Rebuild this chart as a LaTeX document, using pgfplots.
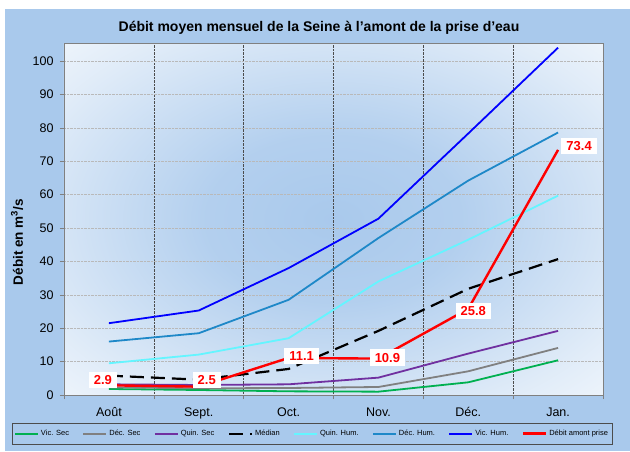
\documentclass[border=0pt]{standalone}
\usepackage{pgfplots}
\usepackage{pgfplotstable}
\pgfplotsset{compat=1.18}
\usepackage{fontspec}
\setmainfont{Liberation Sans}
\definecolor{bgblue}{RGB}{169,201,236}
\definecolor{vsec}{RGB}{0,176,80}
\definecolor{dsec}{RGB}{128,128,128}
\definecolor{qsec}{RGB}{112,48,160}
\definecolor{qhum}{RGB}{100,245,255}
\definecolor{dhum}{RGB}{30,136,200}
\definecolor{vhum}{RGB}{0,0,255}
\pgfdeclareradialshading{plotbg}{\pgfpoint{0bp}{0bp}}{color(0bp)=(bgblue); color(12bp)=(bgblue!88!white); color(30bp)=(bgblue!35!white); color(44bp)=(white); color(50bp)=(white)}
\pgfplotstableread{
x y dx dy
0 2.9 -6 5
1 2.5 8 7
2 11.1 13 1.5
3 10.9 9 1
4 25.8 5 -2.5
5 73.4 21 4
}\labeltable
\begin{document}
\begin{tikzpicture}
\useasboundingbox (0pt,0pt) rectangle (630pt,451pt);
\clip (0pt,0pt) rectangle (630pt,451pt);
\fill[white] (0pt,0pt) rectangle (630pt,451pt);
\fill[bgblue] (5pt,0pt) rectangle (630pt,442pt);
\node[font=\bfseries\fontsize{14}{16}\selectfont] at (319pt,423pt) {Débit moyen mensuel de la Seine à l'amont de la prise d'eau};
\node[rotate=90, font=\bfseries\fontsize{13.5}{15}\selectfont] at (17pt,209pt) {Débit en m\textsuperscript{3}/s};
\begin{axis}[
  at={(64pt,56pt)}, anchor=south west,
  width=539pt, height=352pt, scale only axis,
  xmin=-0.5, xmax=5.5, ymin=0, ymax=105.4,
  axis background/.style={shading=plotbg},
  axis line style={gray},
  /pgf/number format/assume math mode=true,
  ticklabel style={font=\fontsize{12.5}{14}\selectfont},
  yticklabel style={xshift=-3pt},
  xtick={-0.5,0.5,...,5.5}, xticklabels={},
  extra x ticks={0,1,2,3,4,5},
  extra x tick labels={Août,Sept.,Oct.,Nov.,Déc.,Jan.},
  extra x tick style={xmajorgrids=false, major tick length=0pt, xticklabel style={yshift=-9pt}},
  ytick={0,10,...,100},
  xmajorgrids, ymajorgrids,
  x grid style={densely dotted, black!70, line width=0.6pt},
  y grid style={densely dotted, gray!55, line width=0.6pt},
  tick align=outside, major tick length=4pt,
  tick style={gray, line width=0.6pt},
  xtick pos=bottom, ytick pos=left,
  legend columns=8,
  legend style={at={(-0.0965,-0.0795)}, anchor=north west, draw=black!70, fill=bgblue,
    font=\fontsize{7.5}{9}\selectfont, inner xsep=2pt, inner ysep=5pt,
    /tikz/every even column/.append style={column sep=11.5pt}},
  legend cell align=left,
  legend image code/.code={\draw[#1] (0pt,0pt) -- (23pt,0pt);},
]
\addplot[vsec, line width=1.8pt] coordinates {(0,1.8)(1,1.5)(2,1.1)(3,1.0)(4,3.8)(5,10.4)};
\addlegendentry{Vic. Sec}
\addplot[dsec, line width=1.8pt] coordinates {(0,2.3)(1,2.0)(2,2.1)(3,2.4)(4,7.1)(5,14.1)};
\addlegendentry{Déc. Sec}
\addplot[qsec, line width=1.8pt] coordinates {(0,3.2)(1,3.0)(2,3.2)(3,5.2)(4,12.4)(5,19.2)};
\addlegendentry{Quin. Sec}
\addplot[black, line width=2.2pt, dash pattern=on 14pt off 7pt] coordinates {(0,5.8)(1,4.6)(2,7.8)(3,19.2)(4,31.8)(5,40.7)};
\addlegendentry{Médian}
\addplot[qhum, line width=1.8pt] coordinates {(0,9.5)(1,12.1)(2,17.0)(3,34.0)(4,46.5)(5,59.7)};
\addlegendentry{Quin. Hum.}
\addplot[dhum, line width=1.8pt] coordinates {(0,16.0)(1,18.5)(2,28.5)(3,47.0)(4,64.2)(5,78.6)};
\addlegendentry{Déc. Hum.}
\addplot[vhum, line width=1.8pt] coordinates {(0,21.5)(1,25.3)(2,38.0)(3,52.8)(4,78.3)(5,104.0)};
\addlegendentry{Vic. Hum.}
\addplot[red, line width=2.4pt] table[x=x, y=y] {\labeltable};
\addlegendentry{Débit amont prise}
\addplot[forget plot, only marks, mark=none,
  visualization depends on={\thisrow{dx} \as \labdx},
  visualization depends on={\thisrow{dy} \as \labdy},
  nodes near coords={\pgfmathprintnumber[fixed,precision=1]{\pgfplotspointmeta}},
  every node near coord/.append style={anchor=center, fill=white, text=red,
    font=\bfseries\fontsize{13}{15}\selectfont, inner xsep=5pt, inner ysep=3.5pt,
    xshift=\labdx pt, yshift=\labdy pt}]
  table[x=x, y=y] {\labeltable};
\end{axis}
\end{tikzpicture}
\end{document}
